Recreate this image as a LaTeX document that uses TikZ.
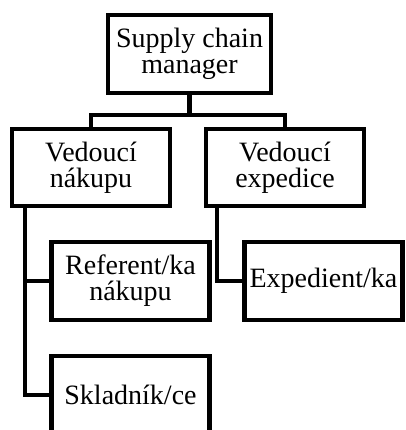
\documentclass[tikz,border=0pt]{standalone}
\usepackage{fontspec}
\setmainfont{Liberation Serif}
\usepackage{tikz}
\usetikzlibrary{positioning}
\tikzset{
  orgbox/.style={rectangle, draw=black, line width=3.2pt, fill=white,
                 minimum width=118.5pt, minimum height=58pt, align=center,
                 inner sep=0pt, font=\fontsize{21}{19.5}\selectfont},
  orgline/.style={draw=black, line width=3.2pt},
}
\begin{document}
\begin{tikzpicture}[x=0.75pt, y=-0.75pt]
\useasboundingbox (0,0) rectangle (405,430);
\clip (0,0) rectangle (405,430);

% Top level
\node[orgbox, minimum width=122pt] (scm) at (189.5,54) {Supply chain\\manager};

% Second level
\node[orgbox] (vnak) at (91,167.5) {Vedoucí\\nákupu};
\node[orgbox] (vexp) at (285,167.5) {Vedoucí\\expedice};

% Third level
\node[orgbox] (refnak) at (130.5,281) {Referent/ka\\nákupu};
\node[orgbox] (sklad) at (130.5,395) {Skladník/ce};
\node[orgbox] (exped) at (323.5,281) {Expedient/ka};

% Connectors
\draw[orgline] (scm.south) -- ++(0,20) -| (vnak.north);
\draw[orgline] (scm.south) -- ++(0,20) -| (vexp.north);
\draw[orgline] ([xshift=11.25pt]vnak.south west) |- (refnak.west);
\draw[orgline] ([xshift=11.25pt]vnak.south west) |- (sklad.west);
\draw[orgline] ([xshift=9.75pt]vexp.south west) |- (exped.west);

\end{tikzpicture}
\end{document}
